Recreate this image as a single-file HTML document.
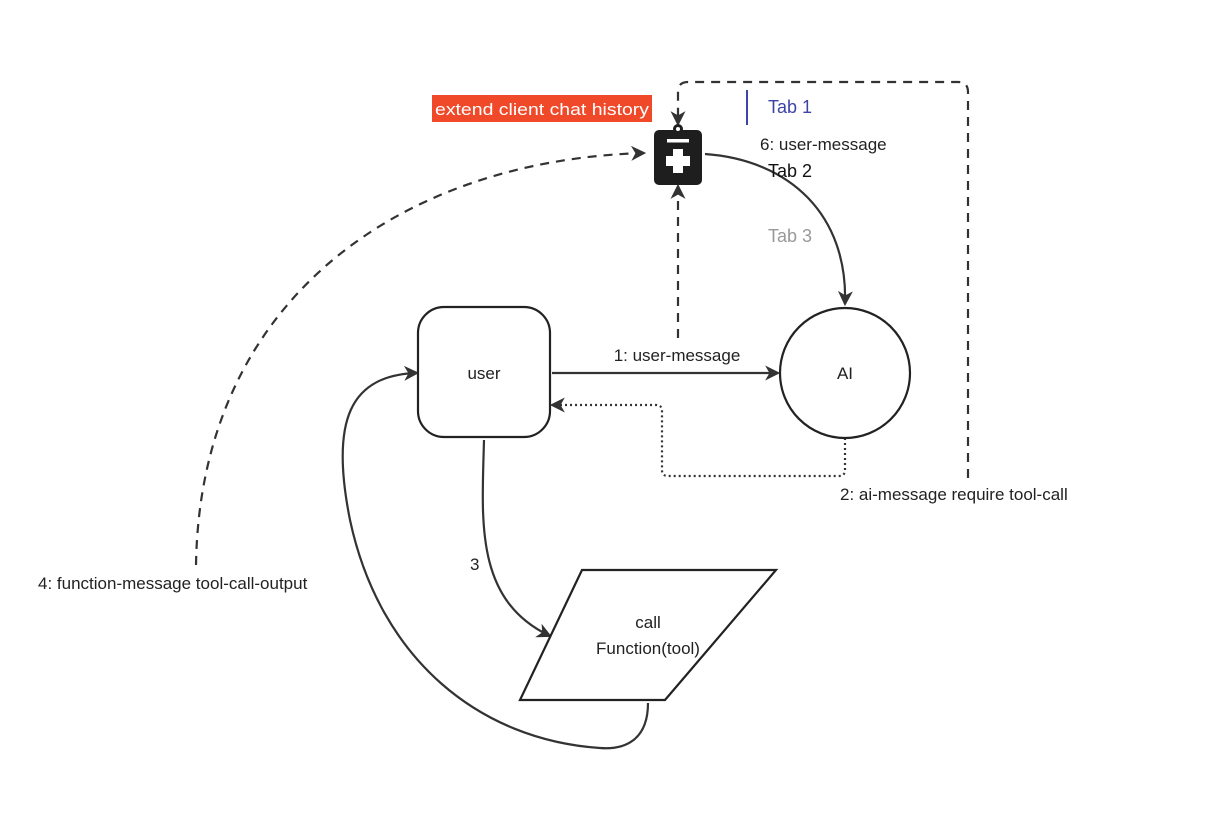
<!DOCTYPE html>
<html><head><meta charset="utf-8"><style>
body{margin:0;background:#fff;}
svg{display:block;font-family:"Liberation Sans",sans-serif;}
</style></head><body>
<svg width="1216" height="821" viewBox="0 0 1216 821">
<defs>
<marker id="a" viewBox="0 0 14 14" refX="12" refY="7" markerWidth="15" markerHeight="15" orient="auto" markerUnits="userSpaceOnUse">
<path d="M0,0 L14,7 L0,14 L4,7 z" fill="#333"/>
</marker>
</defs>
<g fill="none" stroke="#333" stroke-width="2.2">
<path d="M968,478 L968,92 Q968,82 958,82 L688,82 Q678,82 678,92 L678,124" stroke-dasharray="9,7" marker-end="url(#a)"/>
<path d="M196,565 C200,300 400,160 644,153" stroke-dasharray="9,7" marker-end="url(#a)"/>
<path d="M678,338 L678,186" stroke-dasharray="9,7" marker-end="url(#a)"/>
<path d="M705,154 C790,160 848,215 845,304" marker-end="url(#a)"/>
<path d="M552,373 L778,373" marker-end="url(#a)"/>
<path d="M845,438 L845,470 Q845,476 839,476 L668,476 Q662,476 662,470 L662,411 Q662,405 656,405 L552,405" stroke-dasharray="2,3" marker-end="url(#a)"/>
<path d="M484,440 C482,520 474,600 550,636" marker-end="url(#a)"/>
<path d="M648,703 C648,740 625,750 600,748 C480,740 380,660 350,520 C330,420 350,375 417,373" marker-end="url(#a)"/>
</g>
<rect x="418" y="307" width="132" height="130" rx="26" fill="#fff" stroke="#222" stroke-width="2.2"/>
<circle cx="845" cy="373" r="65" fill="#fff" stroke="#222" stroke-width="2.2"/>
<path d="M582,570 L776,570 L665,700 L520,700 z" fill="#fff" stroke="#222" stroke-width="2.2"/>
<rect x="654" y="130" width="48" height="55" rx="5" fill="#1e1e1e"/>
<circle cx="678" cy="129" r="5" fill="#1e1e1e"/>
<circle cx="678" cy="129" r="2" fill="#fff"/>
<rect x="667" y="139" width="22" height="3.5" fill="#fff"/>
<rect x="673" y="149" width="10" height="24" fill="#fff"/>
<rect x="666" y="156" width="24" height="10" fill="#fff"/>
<rect x="432" y="95" width="220" height="27" fill="#f0492a"/>
<text x="542" y="115" font-size="17" fill="#fff" text-anchor="middle" textLength="214" lengthAdjust="spacingAndGlyphs">extend client chat history</text>
<line x1="747" y1="90" x2="747" y2="125" stroke="#3b44a8" stroke-width="2"/>
<text x="768" y="113" font-size="18" fill="#3b44a8">Tab 1</text>
<text x="760" y="150" font-size="17" fill="#222">6: user-message</text>
<text x="768" y="177" font-size="18" fill="#111">Tab 2</text>
<text x="768" y="242" font-size="18" fill="#999">Tab 3</text>
<text x="484" y="379" font-size="17" fill="#222" text-anchor="middle">user</text>
<text x="845" y="379" font-size="17" fill="#222" text-anchor="middle">AI</text>
<text x="648" y="628" font-size="17" fill="#222" text-anchor="middle">call</text>
<text x="648" y="654" font-size="17" fill="#222" text-anchor="middle">Function(tool)</text>
<text x="677" y="361" font-size="17" fill="#222" text-anchor="middle">1: user-message</text>
<text x="840" y="500" font-size="17" fill="#222">2: ai-message require tool-call</text>
<text x="470" y="570" font-size="17" fill="#222">3</text>
<text x="38" y="589" font-size="17" fill="#222">4: function-message tool-call-output</text>
</svg>
</body></html>
